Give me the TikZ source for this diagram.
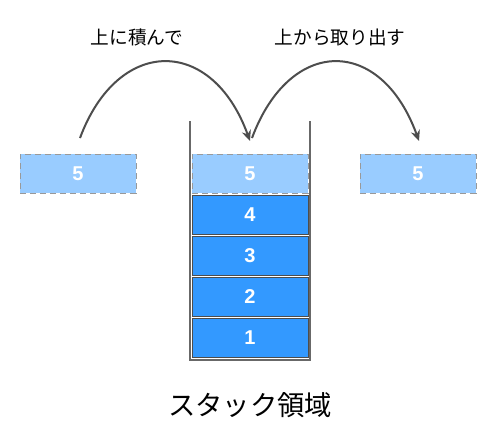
\documentclass[tikz,border=0pt]{standalone}
\usepackage{fontspec}
\setmainfont{Liberation Sans}
\newfontfamily\jp{Noto Sans CJK JP}
\usetikzlibrary{arrows.meta}
\definecolor{lightcell}{HTML}{99CCFF}
\definecolor{cell}{HTML}{3399FF}
\definecolor{edge}{HTML}{4D4D4D}
\begin{document}
\begin{tikzpicture}[x=0.75pt,y=-0.75pt,
  newcell/.style={draw=gray!80,dash pattern=on 4.5pt off 3pt,line width=0.75pt,fill=lightcell,
    minimum width=87pt,minimum height=29.25pt,inner sep=0pt,text=white,font=\bfseries\fontsize{15}{18}\selectfont},
  stackcell/.style={draw=edge,line width=0.75pt,fill=cell,
    minimum width=87pt,minimum height=29.25pt,inner sep=0pt,text=white,font=\bfseries\fontsize{15}{18}\selectfont},
  jump/.style={draw=edge,line width=1.5pt,-{Stealth[length=8pt,width=7pt]}},
  lbl/.style={inner sep=0pt,font=\jp\fontsize{14}{16}\selectfont}]
\useasboundingbox (0,0) rectangle (496,443);
% stack walls
\draw[edge!85,line width=2pt] (190,121) -- (190,360) -- (310,360) -- (310,121);
\node[newcell] (in) at (78,173.5) {5};
\node[newcell] (top) at (250,173.5) {5};
\node[newcell] (out) at (418,173.5) {5};
\node[stackcell] (s4) at (250,214.5) {4};
\node[stackcell] (s3) at (250,255.5) {3};
\node[stackcell] (s2) at (250,296.5) {2};
\node[stackcell] (s1) at (250,337.5) {1};
% arcs
\coordinate (p1) at (80,138);
\coordinate (p2) at (250,141);
\coordinate (p3) at (252,138);
\coordinate (p4) at (419,141);
\draw[jump] (p1) .. controls (118,36) and (212,36) .. (p2);
\draw[jump] (p3) .. controls (290,36) and (381,36) .. (p4);
\node[lbl] (push) at (137,37) {上に積んで};
\node[lbl] (pop) at (340,37) {上から取り出す};
\node[lbl,font=\jp\fontsize{20.5}{24}\selectfont] (area) at (250,405) {スタック領域};
\end{tikzpicture}
\end{document}
